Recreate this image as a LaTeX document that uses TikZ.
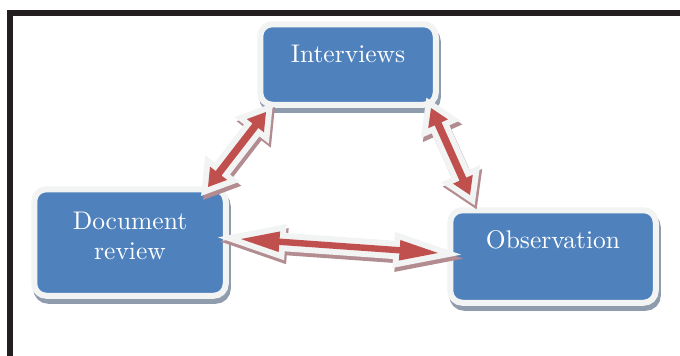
\documentclass[tikz,border=0pt]{standalone}
\usepackage{fontspec}
\setmainfont{lmroman10-regular.otf}
\usepackage{tikz}
\usetikzlibrary{positioning,calc,shapes.arrows}
\definecolor{boxblue}{RGB}{79,129,189}
\definecolor{rim}{RGB}{242,243,243}
\definecolor{boxshadow}{RGB}{142,156,173}
\definecolor{arrowred}{RGB}{192,80,77}
\definecolor{arrowshadow}{RGB}{178,140,145}
\definecolor{frame}{RGB}{35,31,32}

\begin{document}
\begin{tikzpicture}[x=1pt,y=-1pt,
    box/.style={rectangle, rounded corners=12pt, inner sep=0pt, fill=boxblue, draw=rim,
        line width=6pt, text=white, align=center, font=\fontsize{25.5}{30}\selectfont,
        text height=17.5pt,
        preaction={fill=boxshadow, draw=boxshadow, line width=6pt,
            transform canvas={shift={(2pt,-5pt)}}}},
    link/.style={double arrow, double arrow head indent=0pt, inner xsep=0pt, fill=arrowred,
        preaction={fill=arrowshadow, draw=arrowshadow, line width=12pt,
            transform canvas={shift={(2pt,-4pt)}}},
        preaction={draw=rim, line width=12pt}}]
    \useasboundingbox (0,0) rectangle (680,356);
    % Frame
    \draw[frame, line width=6pt] (10,356) -- (10,13) -- (680,13);
    % Boxes
    \node[box, minimum width=175.5pt, minimum height=80.5pt, text depth=22pt]
        (int) at (348,64.5) {Interviews};
    \node[box, minimum width=191.5pt, minimum height=106.5pt, text height=47.5pt, text depth=14.5pt]
        (doc) at (130,242.5) {Document\\review};
    \node[box, minimum width=205.5pt, minimum height=92.5pt, text depth=34pt]
        (obs) at (553,256.5) {Observation};
    % Arrow ends
    \coordinate (a1s) at ([shift={(-20.75,0.75)}]doc.north east);
    \coordinate (a1e) at ([shift={(8.75,4.25)}]int.south west);
    \coordinate (a2s) at ([shift={(-7.75,0.25)}]int.south east);
    \coordinate (a2e) at ([shift={(22.75,-12.25)}]obs.north west);
    \coordinate (a3s) at ([shift={(12.25,-3.5)}]doc.east);
    \coordinate (a3e) at ([shift={(-9.25,-3.5)}]obs.west);
    % Double arrows (tip angle / head width / half shaft)
    \foreach \s/\e/\tip/\head/\shaft in {a1s/a1e/64/19/3.5, a2s/a2e/64/19/3.5, a3s/a3e/30/16/3} {
        \path let \p1=($(\e)-(\s)$), \n1={veclen(\x1,\y1)}, \n2={atan2(\y1,\x1)} in
            node[link, double arrow tip angle=\tip, minimum width=\head pt, inner ysep=\shaft pt,
                minimum height=\n1, rotate=\n2] at ($(\s)!0.5!(\e)$) {};
    }
\end{tikzpicture}
\end{document}
